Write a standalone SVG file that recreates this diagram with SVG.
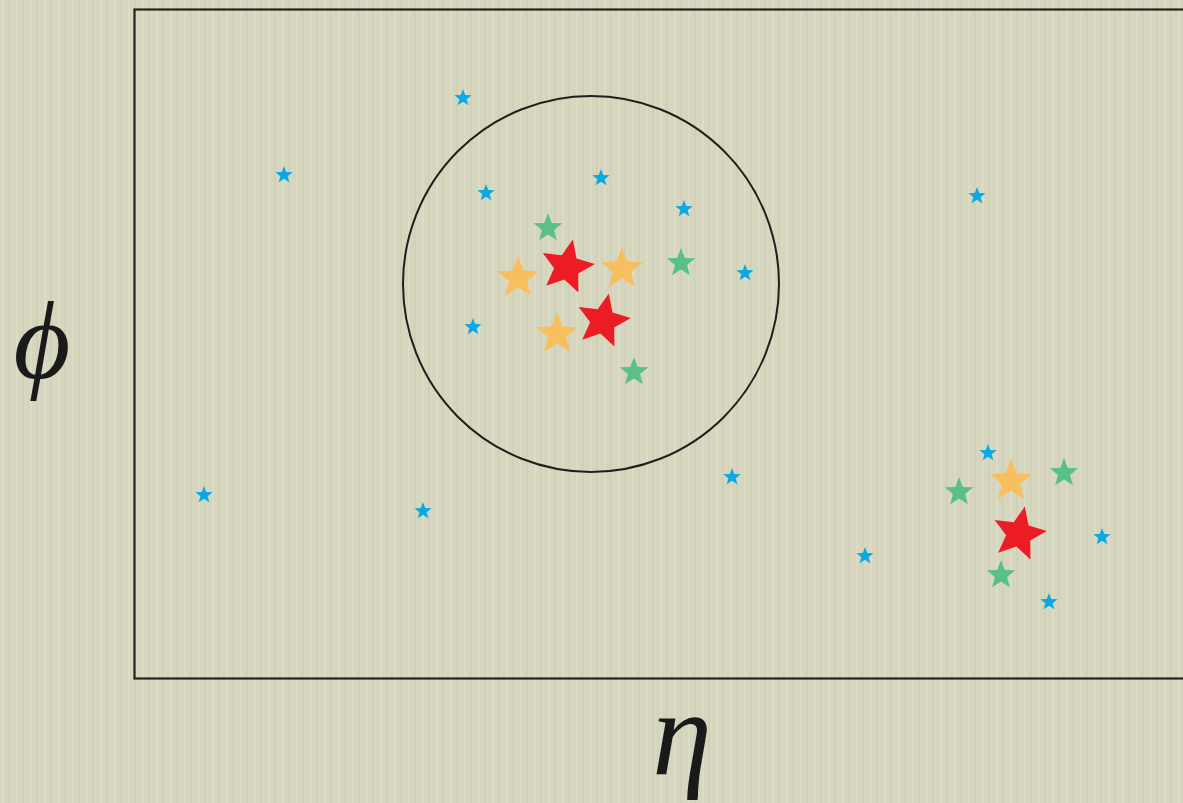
<svg xmlns="http://www.w3.org/2000/svg" xmlns:xlink="http://www.w3.org/1999/xlink" width="1183" height="803" viewBox="0 0 1183 803">
<style>
.b{fill:#0aa9e4}.g{fill:#5bbf8a}.o{fill:#f7bf5e}.r{fill:#ec1c24}
.frame{fill:none;stroke:#222;stroke-width:2.2}
.lbl{font-family:"Liberation Serif","DejaVu Serif",serif;font-style:italic;fill:#1a1a1a}
</style>
<defs>
<path id="s" d="M0,-1 L0.25,-0.34 L0.951,-0.309 L0.404,0.132 L0.588,0.809 L0,0.425 L-0.588,0.809 L-0.404,0.132 L-0.951,-0.309 L-0.25,-0.34Z"/>
<path id="sr" d="M0,-1 L0.27,-0.37 L0.951,-0.309 L0.44,0.143 L0.588,0.809 L0,0.46 L-0.588,0.809 L-0.44,0.143 L-0.951,-0.309 L-0.27,-0.37Z"/>
<pattern id="tex" width="14" height="803" patternUnits="userSpaceOnUse">
<rect width="14" height="803" fill="#d6d5bd"/>
<rect x="2" width="2" height="803" fill="#e0dfc9" opacity="0.6"/>
<rect x="8" width="1.5" height="803" fill="#cccbb2" opacity="0.6"/>
<rect x="11" width="1" height="803" fill="#dddcc6" opacity="0.5"/>
</pattern>
</defs>
<rect width="1183" height="803" fill="url(#tex)"/>
<g id="frame"><rect class="frame" x="134.5" y="9.5" width="1060" height="669"/></g>
<g id="cone"><circle cx="591" cy="284" r="188" fill="none" stroke="#1f1f1f" stroke-width="2"/></g>
<g id="labels">
<text class="lbl" x="42" y="378" font-size="110" text-anchor="middle">ϕ</text>
<text class="lbl" x="682" y="774" font-size="120" text-anchor="middle">η</text>
</g>
<g id="blue">
<use xlink:href="#s" class="b" transform="translate(463,98) scale(9)"/>
<use xlink:href="#s" class="b" transform="translate(284,175) scale(9)"/>
<use xlink:href="#s" class="b" transform="translate(486,193) scale(9)"/>
<use xlink:href="#s" class="b" transform="translate(601,178) scale(9)"/>
<use xlink:href="#s" class="b" transform="translate(684,209) scale(9)"/>
<use xlink:href="#s" class="b" transform="translate(745,273) scale(9)"/>
<use xlink:href="#s" class="b" transform="translate(977,196) scale(9)"/>
<use xlink:href="#s" class="b" transform="translate(473,327) scale(9)"/>
<use xlink:href="#s" class="b" transform="translate(204,495) scale(9)"/>
<use xlink:href="#s" class="b" transform="translate(423,511) scale(9)"/>
<use xlink:href="#s" class="b" transform="translate(732,477) scale(9)"/>
<use xlink:href="#s" class="b" transform="translate(865,556) scale(9)"/>
<use xlink:href="#s" class="b" transform="translate(988,453) scale(9)"/>
<use xlink:href="#s" class="b" transform="translate(1102,537) scale(9)"/>
<use xlink:href="#s" class="b" transform="translate(1049,602) scale(9)"/>
</g>
<g id="green">
<use xlink:href="#s" class="g" transform="translate(548,228) scale(15)"/>
<use xlink:href="#s" class="g" transform="translate(681,263) scale(15)"/>
<use xlink:href="#s" class="g" transform="translate(634,372) scale(15)"/>
<use xlink:href="#s" class="g" transform="translate(959,492) scale(15)"/>
<use xlink:href="#s" class="g" transform="translate(1064,473) scale(15)"/>
<use xlink:href="#s" class="g" transform="translate(1001,575) scale(15)"/>
</g>
<g id="orange">
<use xlink:href="#s" class="o" transform="translate(518,278) scale(22)"/>
<use xlink:href="#s" class="o" transform="translate(622,269) scale(22)"/>
<use xlink:href="#s" class="o" transform="translate(557,334) scale(22)"/>
<use xlink:href="#s" class="o" transform="translate(1011,481) scale(22)"/>
</g>
<g id="red">
<use xlink:href="#sr" class="r" transform="translate(567,267) rotate(12) scale(28)"/>
<use xlink:href="#sr" class="r" transform="translate(603,321) rotate(12) scale(28)"/>
<use xlink:href="#sr" class="r" transform="translate(1019,534) rotate(12) scale(28)"/>
</g>
</svg>
